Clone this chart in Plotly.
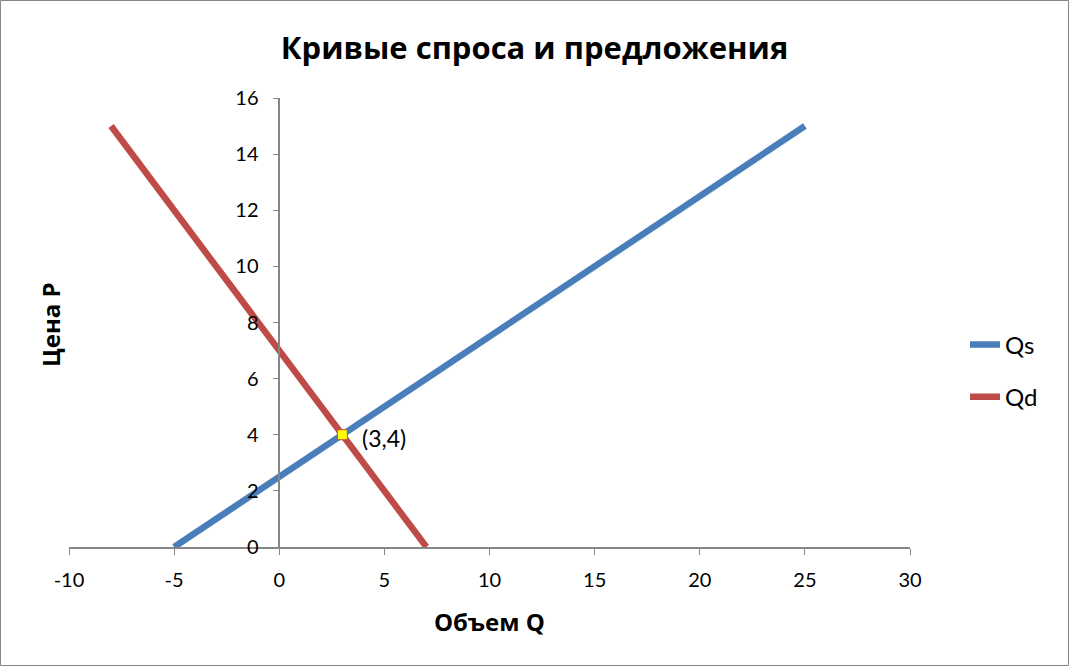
import plotly.graph_objects as go

# Data
qs_q = [-5, 25]
qs_p = [0, 15]
qd_q = [-8, 7]
qd_p = [15, 0]
eq_q = [3]
eq_p = [4]
eq_label = ["(3,4)"]

x_ticks = [-10, -5, 0, 5, 10, 15, 20, 25, 30]
x_tick_text = ["-10", "-5", "0", "5", "10", "15", "20", "25", "30"]
y_ticks = [0, 2, 4, 6, 8, 10, 12, 14, 16]

FONT = "Lato"
TFONT = "Open Sans"
AX = "#868686"

fig = go.Figure()
fig.add_trace(go.Scatter(x=qs_q, y=qs_p, mode="lines", name="Qs",
                         line=dict(color="#4A7EBB", width=6.5), legendgroup="a"))
fig.add_trace(go.Scatter(x=qd_q, y=qd_p, mode="lines", name="Qd",
                         line=dict(color="#BE4B48", width=6.5), legendgroup="b"))
fig.add_trace(go.Scatter(x=eq_q, y=eq_p, mode="markers", showlegend=False,
                         marker=dict(symbol="square", size=10, color="#FFFF00",
                                     line=dict(color="#BE4B48", width=1))))
fig.add_annotation(x=eq_q[0], y=eq_p[0], text=eq_label[0], showarrow=False,
                   xanchor="left", yanchor="middle", xshift=18, yshift=-3,
                   font=dict(size=23, color="#000", family=FONT))

L, R, T, B = 69, 159, 98, 119
W, H = 1069, 666
pw, ph = W - L - R, H - T - B

fig.update_layout(
    width=W, height=H,
    margin=dict(l=L, r=R, t=T, b=B),
    paper_bgcolor="white", plot_bgcolor="white",
    font=dict(family=FONT, color="#000"),
    title=dict(text="<b>Кривые спроса и предложения</b>", x=0.5, xanchor="center",
               y=1 - 48 / H, yanchor="middle", font=dict(size=31, family=TFONT)),
    xaxis=dict(range=[-10, 30], tickvals=x_ticks, ticktext=x_tick_text,
               showgrid=False, zeroline=False,
               showline=True, linecolor=AX, linewidth=1.5, ticks="outside",
               ticklen=6, tickcolor=AX, tickfont=dict(size=20, family=FONT),
               ticklabelstandoff=8),
    yaxis=dict(range=[0, 16], tickvals=y_ticks, showgrid=False, zeroline=False,
               showline=True, linecolor=AX, linewidth=1.5, ticks="outside",
               ticklen=6, tickcolor=AX, tickfont=dict(size=20, family=FONT),
               anchor="free", position=0.25, ticklabelstandoff=10),
    legend=dict(x=(965 - L) / pw, y=(547 - 371) / ph, xanchor="left", yanchor="middle",
                font=dict(size=24, family=FONT), tracegroupgap=18,
                bgcolor="rgba(0,0,0,0)"),
    showlegend=True,
)

fig.add_annotation(text="<b>Объем Q</b>", xref="paper", yref="paper",
                   x=0.5, y=-(621 - 547) / ph, showarrow=False,
                   font=dict(size=24, family=TFONT), xanchor="center", yanchor="middle")
fig.add_annotation(text="<b>Цена P</b>", xref="paper", yref="paper",
                   x=-(69 - 50) / pw, y=(547 - 325) / ph, showarrow=False, textangle=-90,
                   font=dict(size=24, family=TFONT), xanchor="center", yanchor="middle")

# outer chart border
fig.add_shape(type="rect", xref="paper", yref="paper",
              x0=(0.5 - L) / pw, x1=(W - 0.5 - L) / pw,
              y0=-(H - 0.5 - T - ph) / ph, y1=(T + ph - 0.5) / ph,
              line=dict(color="#868686", width=1), fillcolor="rgba(0,0,0,0)", layer="below")

fig.write_html("out.html", config={"displayModeBar": False},
               post_script="document.body.style.margin='0';")
